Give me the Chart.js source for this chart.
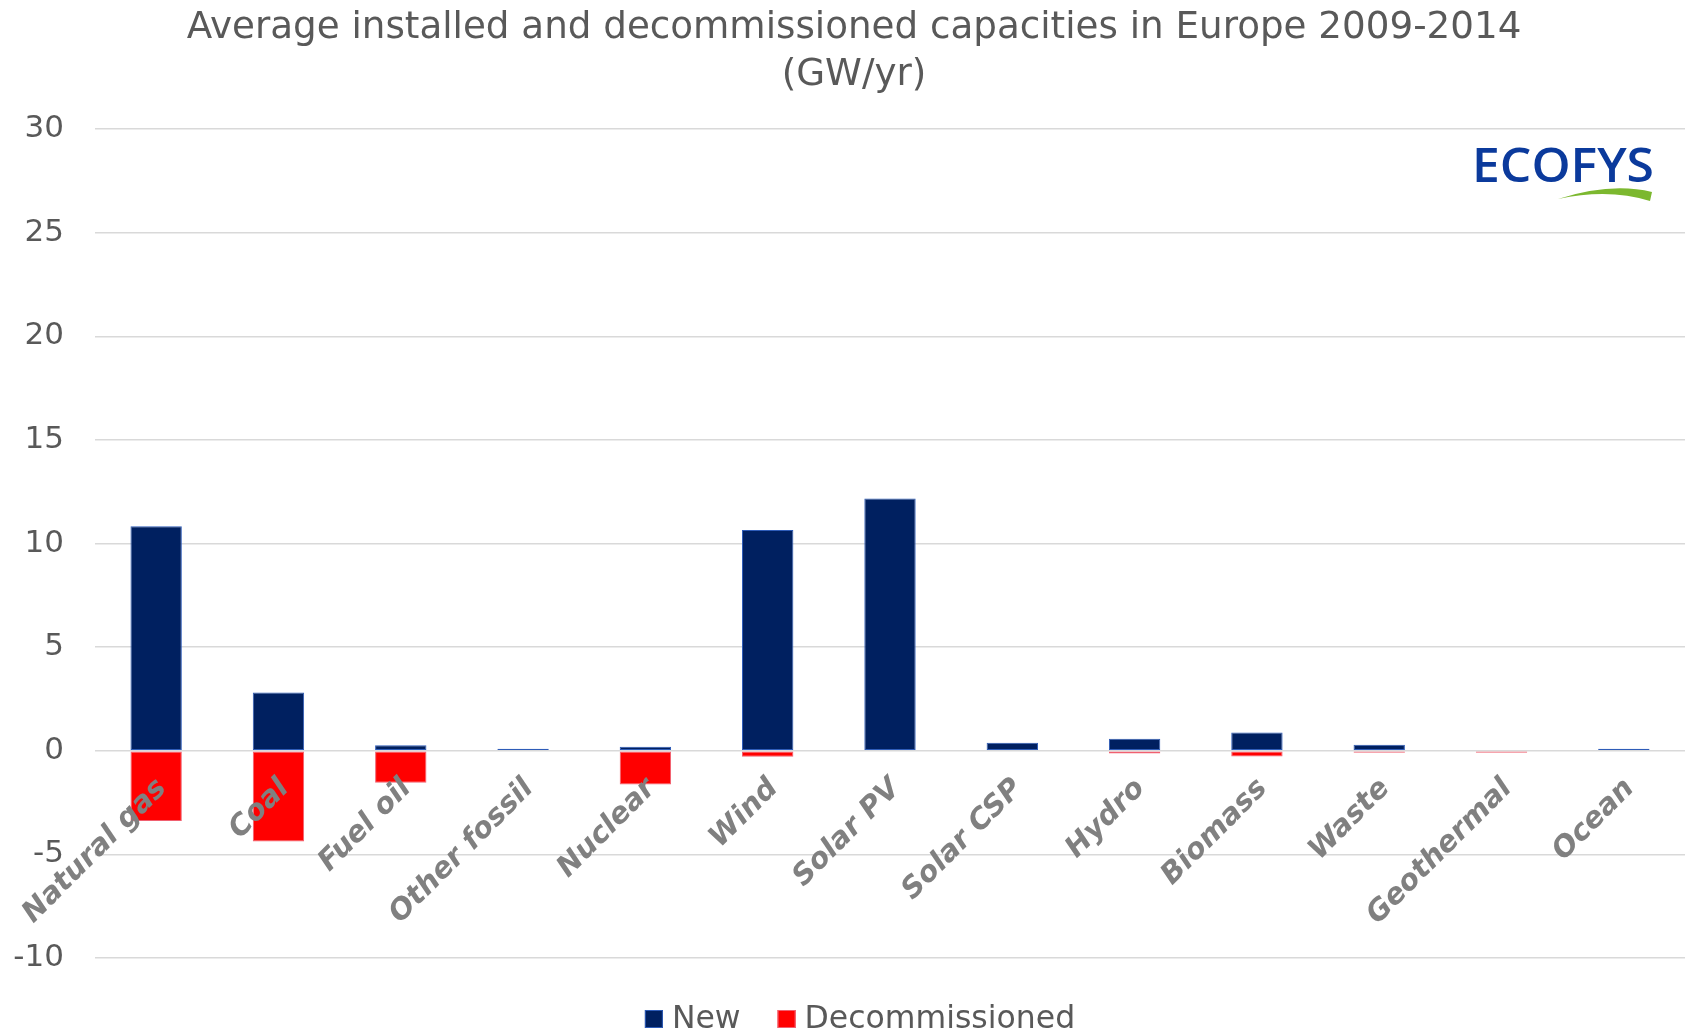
<!DOCTYPE html>
<html lang="en">
<head>
  <meta charset="UTF-8" />
  <title>Average installed and decommissioned capacities in Europe 2009-2014</title>
  <script src="https://cdn.jsdelivr.net/npm/chart.js"></script>
  <style>
    html, body { margin: 0; padding: 0; background: #ffffff; }
    .wrap { width: 1694px; height: 1034px; position: relative; }
  </style>
</head>
<body>
  <div class="wrap">
    <canvas id="capChart"></canvas>
  </div>

  <script>
    // GW/yr, averaged over 2009-2014 (null = nothing to draw)
    const categories = ['Natural gas', 'Coal', 'Fuel oil', 'Other fossil', 'Nuclear', 'Wind', 'Solar PV',
      'Solar CSP', 'Hydro', 'Biomass', 'Waste', 'Geothermal', 'Ocean'];
    const newCapacity = [10.84, 2.81, 0.27, 0.03, 0.19, 10.66, 12.17, 0.39, 0.58, 0.88, 0.29, null, 0.03];
    const decommissioned = [-3.39, -4.38, -1.54, null, -1.63, -0.29, null, null, -0.13, -0.27, -0.08, -0.04, null];
    const yTicks = [-10, -5, 0, 5, 10, 15, 20, 25, 30];

    const FONT = '"DejaVu Sans", Verdana, sans-serif';
    const TEXT_GREY = '#595959';
    const HEADER_INSET = 23; // title and legend are centred a bit right of the canvas middle

    // shift the title block so it centres over the inset area
    const titleInset = {
      id: 'titleInset',
      afterLayout(chart) {
        if (chart.titleBlock) chart.titleBlock.left = HEADER_INSET;
      }
    };

    // logo in the top right corner
    const logoPlugin = {
      id: 'logo',
      afterDraw(chart) {
        const ctx = chart.ctx;
        ctx.save();
        ctx.font = '600 47px "Open Sans", sans-serif';
        ctx.fillStyle = '#0b3a9c';
        ctx.textBaseline = 'alphabetic';
        const w = ctx.measureText('ECOFYS').width;
        ctx.translate(1472, 182);
        ctx.scale(182 / w, 1);
        ctx.fillText('ECOFYS', 0, 0);
        ctx.restore();

        ctx.save();
        ctx.fillStyle = '#7cb82f';
        ctx.beginPath();
        ctx.moveTo(1558, 199);
        ctx.quadraticCurveTo(1611, 182, 1652, 192);
        ctx.lineTo(1650, 201);
        ctx.quadraticCurveTo(1609, 188, 1558, 199);
        ctx.closePath();
        ctx.fill();
        ctx.restore();
      }
    };

    // compact legend under the plot
    const bottomLegend = {
      id: 'bottomLegend',
      afterDraw(chart) {
        const ctx = chart.ctx;
        const box = 18, gap = 9, spacing = 37;
        ctx.save();
        ctx.font = '31.5px ' + FONT;
        ctx.textBaseline = 'middle';
        const items = chart.data.datasets.map(ds => ({
          text: ds.label, fill: ds.backgroundColor, stroke: ds.borderColor,
          w: ctx.measureText(ds.label).width
        }));
        const total = items.reduce((s, it) => s + box + gap + it.w, 0) + spacing * (items.length - 1);
        const mid = (HEADER_INSET + chart.chartArea.right) / 2 + 6;
        let x = mid - total / 2;
        const y = chart.height - 15;
        items.forEach(it => {
          ctx.fillStyle = it.fill;
          ctx.fillRect(x, y - box / 2, box, box);
          ctx.strokeStyle = it.stroke;
          ctx.lineWidth = 1;
          ctx.strokeRect(x + 0.5, y - box / 2 + 0.5, box - 1, box - 1);
          ctx.fillStyle = TEXT_GREY;
          ctx.fillText(it.text, x + box + gap, y + 1);
          x += box + gap + it.w + spacing;
        });
        ctx.restore();
      }
    };

    new Chart(document.getElementById('capChart'), {
      type: 'bar',
      data: {
        labels: categories,
        datasets: [
          {
            label: 'New',
            data: newCapacity,
            backgroundColor: '#002060',
            borderColor: '#2e5cb8',
            borderWidth: 1,
            borderSkipped: false,
            minBarLength: 2
          },
          {
            label: 'Decommissioned',
            data: decommissioned,
            backgroundColor: '#ff0000',
            borderColor: '#f06070',
            borderWidth: 1,
            borderSkipped: false,
            minBarLength: 2
          }
        ]
      },
      options: {
        responsive: true,
        maintainAspectRatio: false,
        animation: false,
        categoryPercentage: 0.42,
        barPercentage: 1,
        layout: { padding: { left: 0, right: 9, top: 0, bottom: 76 } },
        plugins: {
          legend: { display: false },
          tooltip: { enabled: false },
          title: {
            display: true,
            text: ['Average installed and decommissioned capacities in Europe 2009-2014', '(GW/yr)'],
            color: TEXT_GREY,
            font: { family: FONT, size: 37.25, weight: 'normal', lineHeight: 1.25 },
            padding: { top: 5, bottom: 31 }
          }
        },
        scales: {
          x: {
            stacked: true,
            position: { y: 0 },
            grid: { display: false },
            border: { display: false },
            ticks: {
              z: 1,
              autoSkip: false,
              minRotation: 45,
              maxRotation: 45,
              padding: 13,
              labelOffset: 6,
              color: '#808080',
              font: { family: FONT, size: 29, weight: 'bold', style: 'italic' }
            }
          },
          y: {
            stacked: true,
            min: yTicks[0],
            max: yTicks[yTicks.length - 1],
            afterBuildTicks: axis => { axis.ticks = yTicks.map(v => ({ value: v })); },
            afterFit: axis => { axis.width = 95; },
            grid: { color: '#d9d9d9', lineWidth: 1.5, drawTicks: false },
            border: { display: false },
            ticks: {
              padding: 31,
              color: TEXT_GREY,
              font: { family: FONT, size: 31 }
            }
          }
        }
      },
      plugins: [titleInset, logoPlugin, bottomLegend]
    });
  </script>
</body>
</html>
